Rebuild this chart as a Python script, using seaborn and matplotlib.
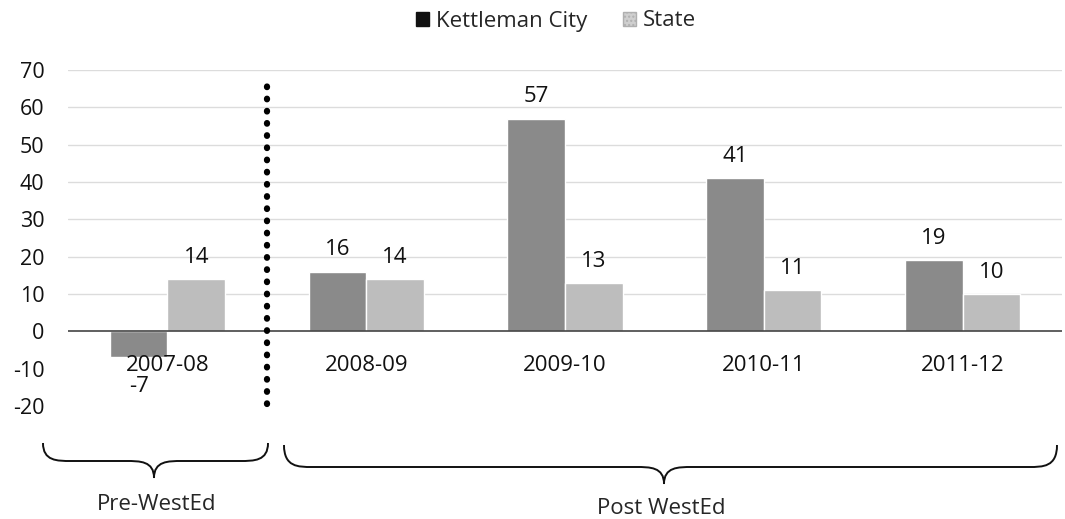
import matplotlib
matplotlib.use("Agg")
import matplotlib.pyplot as plt
from matplotlib.path import Path
from matplotlib.patches import PathPatch, Patch
import seaborn as sns
import pandas as pd

years = ["2007-08", "2008-09", "2009-10", "2010-11", "2011-12"]
kettleman = [-7, 16, 57, 41, 19]
state = [14, 14, 13, 11, 10]
series_names = ["Kettleman City", "State"]
y_ticks = [-20, -10, 0, 10, 20, 30, 40, 50, 60, 70]
period_labels = ["Pre-WestEd", "Post WestEd"]

df = pd.DataFrame({
    "year": years * 2,
    "value": kettleman + state,
    "series": [series_names[0]] * len(years) + [series_names[1]] * len(years),
})

sns.set_theme(style="white")
plt.rcParams["font.family"] = ["Open Sans", "DejaVu Sans"]

W, H = 1065, 519
fig = plt.figure(figsize=(W / 100, H / 100), dpi=100)
ax = fig.add_axes([68 / W, 1 - 406 / H, (1062 - 68) / W, (406 - 70) / H])

colors = {"Kettleman City": "#8a8a8a", "State": "#bdbdbd"}
sns.barplot(data=df, x="year", y="value", hue="series", palette=colors,
            width=0.58, ax=ax, legend=False, saturation=1, zorder=3)

ax.set_ylim(-20, 70)
ax.set_xlim(-0.5, len(years) - 0.5)
ax.set_yticks(y_ticks)
ax.set_yticklabels([str(t) for t in y_ticks], fontsize=15.5, color="#111111")
ax.tick_params(axis="y", length=0, pad=17)
ax.set_xticks([])
ax.set_xlabel("")
ax.set_ylabel("")
for s in ax.spines.values():
    s.set_visible(False)

# gridlines and zero baseline
for t in y_ticks:
    if t > 0:
        ax.axhline(t, color="#dcdcdc", lw=1, zorder=1)
ax.axhline(0, color="#444444", lw=1.2, zorder=4)

# value labels
for bars, vals in zip(ax.containers, [kettleman, state]):
    for rect, v in zip(bars, vals):
        cx = rect.get_x() + rect.get_width() / 2
        if v >= 0:
            ax.annotate(str(v), (cx, v), xytext=(0, 8), textcoords="offset points",
                        ha="center", va="bottom", fontsize=16, color="#111111")
        else:
            ax.annotate(str(v), (cx, v), xytext=(0, -13), textcoords="offset points",
                        ha="center", va="top", fontsize=16, color="#111111")

# category labels below the zero line
for i, y in enumerate(years):
    ax.annotate(y, (i, 0), xytext=(0, -17), textcoords="offset points",
                ha="center", va="top", fontsize=16, color="#111111", zorder=5)

# dotted separator between pre and post periods
ax.plot([0.5, 0.5], [-19.5, 66.5], linestyle=(0, (0.1, 1.85)), color="black",
        lw=4.5, solid_capstyle="round", dash_capstyle="round", clip_on=False, zorder=6)

# legend
handles = [Patch(facecolor="#111111", edgecolor="#111111"),
           Patch(facecolor="#cfcfcf", edgecolor="#b0b0b0", hatch="....")]
fig.legend(handles, series_names, loc="center", bbox_to_anchor=(556 / W, 1 - 21 / H),
           ncol=2, frameon=False, fontsize=16, handlelength=0.6, handleheight=0.6,
           handletextpad=0.3, columnspacing=1.6)


def brace(x0, x1, xc, ytop, ymid, ytip):
    r = 14
    verts = [
        (x0, ytop), (x0, ymid), (x0 + r, ymid), (x0 + 2 * r, ymid),
        (xc - 2 * r, ymid), (xc - r, ymid), (xc, ymid), (xc, ytip),
        (xc, ymid), (xc + r, ymid), (xc + 2 * r, ymid),
        (x1 - 2 * r, ymid), (x1 - r, ymid), (x1, ymid), (x1, ytop),
    ]
    codes = [Path.MOVETO, Path.CURVE4, Path.CURVE4, Path.CURVE4,
             Path.LINETO, Path.CURVE4, Path.CURVE4, Path.CURVE4,
             Path.CURVE4, Path.CURVE4, Path.CURVE4,
             Path.LINETO, Path.CURVE4, Path.CURVE4, Path.CURVE4]
    verts = [(x / W, 1 - y / H) for x, y in verts]
    fig.patches.append(PathPatch(Path(verts, codes), transform=fig.transFigure,
                                 fill=False, edgecolor="#111111", lw=1.4))


brace(43, 268, 154, 443, 461, 478)
brace(284, 1057, 664, 445, 467, 484)
fig.text(157 / W, 1 - 505 / H, period_labels[0], ha="center", va="center", fontsize=16)
fig.text(661 / W, 1 - 509 / H, period_labels[1], ha="center", va="center", fontsize=16)

fig.savefig("out.png", dpi=100, facecolor="white")
